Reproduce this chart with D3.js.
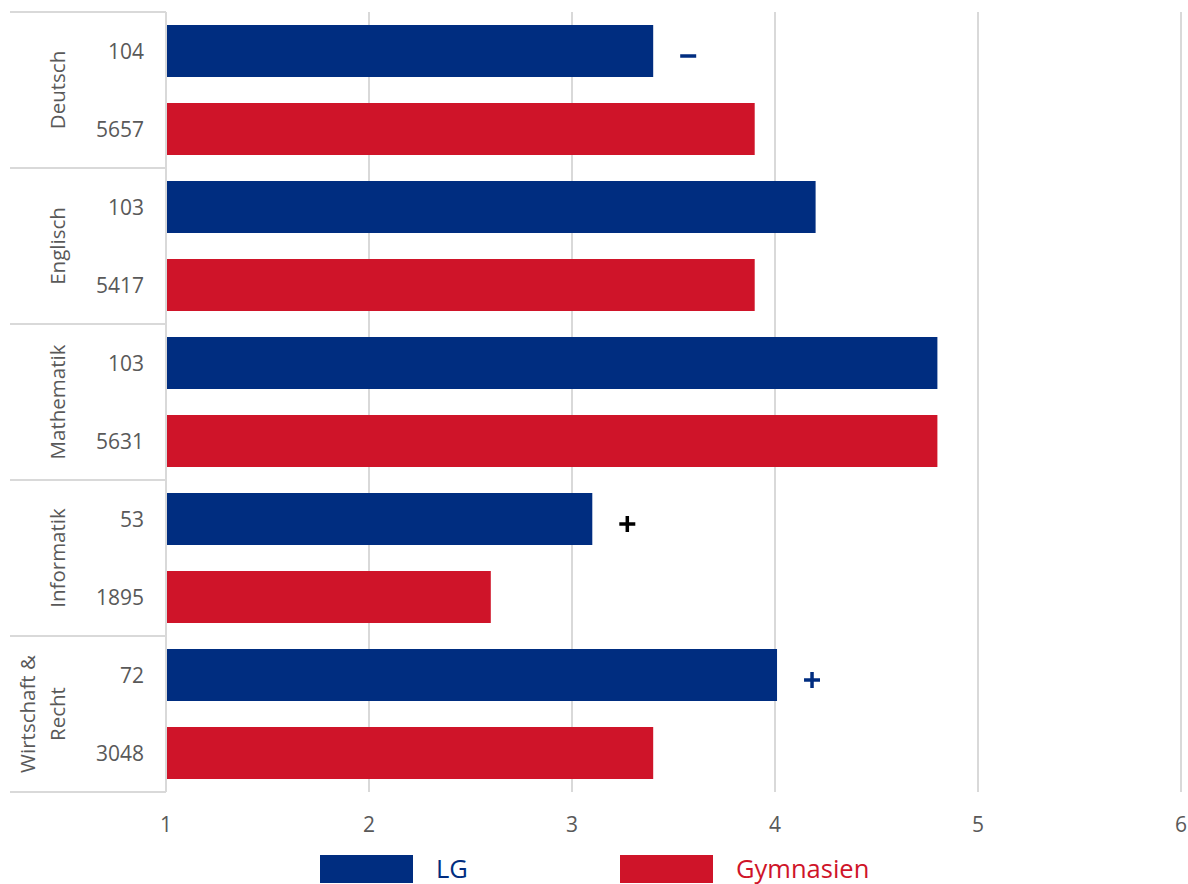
<!DOCTYPE html>
<html><head><meta charset="utf-8">
<script src="https://cdn.jsdelivr.net/npm/d3@7/dist/d3.min.js"></script>
<style>body{margin:0;background:#fff;}svg{display:block;font-family:"Open Sans","Liberation Sans",sans-serif;}</style>
</head><body><svg id="c" width="1188" height="884"></svg>
<script>
const subjects = ["Deutsch","Englisch","Mathematik","Informatik","Wirtschaft & Recht"];
const subjectLines = [["Deutsch"],["Englisch"],["Mathematik"],["Informatik"],["Wirtschaft &","Recht"]];
const seriesNames = ["LG","Gymnasien"];
const lgValues = [3.4, 4.2, 4.8, 3.1, 4.01];
const gymValues = [3.9, 3.9, 4.8, 2.6, 3.4];
const lgCounts = ["104","103","103","53","72"];
const gymCounts = ["5657","5417","5631","1895","3048"];
const markerSubjects = ["Deutsch","Informatik","Wirtschaft & Recht"];
const markerSymbols = ["minus","plus","plus"];
const markerColors = ["#002D80","#000000","#002D80"];
const xTicks = [1,2,3,4,5,6];
const colors = ["#002D80","#CF1429"];

(function(){
const svg = d3.select("#c");
const pLeft = 166, pRight = 1181, pTop = 12, pBottom = 792;
const x = d3.scaleLinear().domain([1,6]).range([pLeft,pRight]);
const rows = [];
subjects.forEach((s,i)=>{
  rows.push({key:s+"|LG",subject:s,series:0,value:lgValues[i],count:lgCounts[i]});
  rows.push({key:s+"|Gym",subject:s,series:1,value:gymValues[i],count:gymCounts[i]});
});
const y = d3.scaleBand().domain(rows.map(r=>r.key)).range([pTop,pBottom]).paddingInner(1/3).paddingOuter(1/6);
const g = d3.scaleBand().domain(subjects).range([pTop,pBottom]);

// gridlines
svg.append("g").selectAll("line").data(xTicks.slice(1)).join("line")
  .attr("x1",d=>x(d)).attr("x2",d=>x(d)).attr("y1",pTop).attr("y2",pBottom)
  .attr("stroke","#d9d9d9").attr("stroke-width",2);

// bars
svg.append("g").selectAll("rect").data(rows).join("rect")
  .attr("x",x(1)).attr("y",d=>y(d.key)).attr("width",d=>x(d.value)-x(1)).attr("height",y.bandwidth())
  .attr("fill",d=>colors[d.series]);

// left axis line + group separators
svg.append("line").attr("x1",pLeft).attr("x2",pLeft).attr("y1",pTop).attr("y2",pBottom)
  .attr("stroke","#d9d9d9").attr("stroke-width",2);
const seps = subjects.map(s=>g(s)).concat([pBottom]);
svg.append("g").selectAll("line").data(seps).join("line")
  .attr("x1",10).attr("x2",pLeft).attr("y1",d=>d).attr("y2",d=>d)
  .attr("stroke","#d9d9d9").attr("stroke-width",2);

// counts
svg.append("g").selectAll("text").data(rows).join("text")
  .attr("x",144).attr("y",d=>y(d.key)+y.bandwidth()/2).attr("dy","0.36em")
  .attr("text-anchor","end").attr("font-size",21).attr("fill","#595959").text(d=>d.count);

// subject labels (rotated)
subjects.forEach((s,i)=>{
  const lines = subjectLines[i];
  const cy = g(s)+g.bandwidth()/2;
  const lh = 30;
  lines.forEach((t,j)=>{
    const cx = 58 - (lines.length-1-j)*lh;
    svg.append("text").attr("transform",`translate(${cx},${cy}) rotate(-90)`)
      .attr("text-anchor","middle").attr("dy","0.36em").attr("font-size",20.5).attr("fill","#595959").text(t);
  });
});

// x axis tick labels
svg.append("g").selectAll("text").data(xTicks).join("text")
  .attr("x",d=>x(d)).attr("y",824).attr("dy","0.36em").attr("text-anchor","middle")
  .attr("font-size",21).attr("fill","#595959").text(d=>d);

// markers
markerSubjects.forEach((s,i)=>{
  const idx = subjects.indexOf(s);
  const key = s+"|LG";
  const cx = x(lgValues[idx]) + 35, cy = y(key)+y.bandwidth()/2 + 5;
  const mg = svg.append("g").attr("stroke",markerColors[i]).attr("stroke-width",3.5);
  mg.append("line").attr("x1",cx-8).attr("x2",cx+8).attr("y1",cy).attr("y2",cy);
  if (markerSymbols[i]==="plus")
    mg.append("line").attr("x1",cx).attr("x2",cx).attr("y1",cy-8).attr("y2",cy+8);
});

// legend
const legX = [320,620];
seriesNames.forEach((n,i)=>{
  svg.append("rect").attr("x",legX[i]).attr("y",855).attr("width",93).attr("height",28).attr("fill",colors[i]);
  svg.append("text").attr("x",legX[i]+116).attr("y",869).attr("dy","0.36em").attr("font-size",25.5)
    .attr("fill",colors[i]).text(n);
});
})();
</script></body></html>
